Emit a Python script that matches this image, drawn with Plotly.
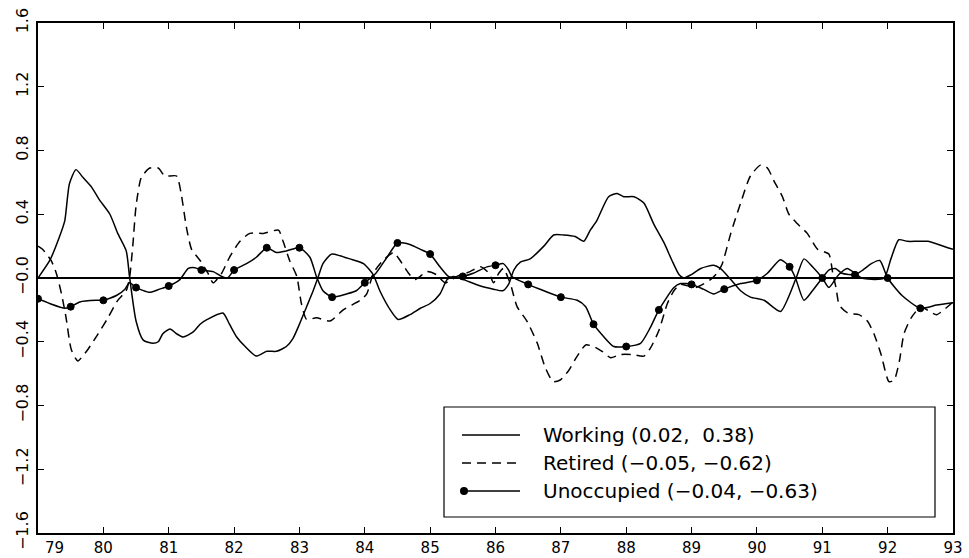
import plotly.graph_objects as go

# ---------------------------------------------------------------------------
# Series (year, value) read as fractional years 79 .. 93
# ---------------------------------------------------------------------------
working_years = [79.0, 79.18, 79.33, 79.41, 79.48, 79.58, 79.69, 79.82, 79.94, 80.1,
                 80.22, 80.35, 80.40, 80.50, 80.61, 80.76, 80.84, 80.91, 81.02, 81.12,
                 81.22, 81.37, 81.48, 81.59, 81.83, 81.93, 82.04, 82.17, 82.34, 82.5,
                 82.65, 82.8, 82.9, 83.0, 83.11, 83.21, 83.29, 83.36, 83.49, 83.62,
                 83.77, 83.98, 84.13, 84.23, 84.39, 84.51, 84.69, 84.85, 85.0, 85.15,
                 85.26, 85.36, 85.51, 85.77, 85.97, 86.11, 86.2, 86.28, 86.38, 86.53,
                 86.74, 86.89, 87.04, 87.22, 87.35, 87.45, 87.55, 87.73, 87.86, 87.96,
                 88.12, 88.27, 88.42, 88.58, 88.7, 88.81, 88.88, 88.99, 89.14, 89.34,
                 89.44, 89.6, 89.75, 89.9, 90.11, 90.36, 90.6, 90.72, 90.85, 91.0,
                 91.1, 91.25, 91.38, 91.5, 91.6, 91.8, 91.95, 92.05, 92.17, 92.3,
                 92.45, 92.62, 92.92, 93.0]
working_values = [0.0, 0.11, 0.26, 0.36, 0.59, 0.68, 0.63, 0.57, 0.49, 0.40,
                  0.28, 0.17, 0.01, -0.27, -0.39, -0.41, -0.40, -0.35, -0.32, -0.35,
                  -0.37, -0.34, -0.29, -0.26, -0.22, -0.29, -0.37, -0.43, -0.49, -0.46,
                  -0.46, -0.43, -0.38, -0.29, -0.18, -0.08, 0.01, 0.09, 0.15, 0.14,
                  0.12, 0.09, 0.02, -0.08, -0.20, -0.26, -0.23, -0.19, -0.16, -0.10,
                  -0.01, 0.01, -0.01, -0.05, -0.07, -0.08, -0.04, 0.05, 0.10, 0.12,
                  0.20, 0.27, 0.27, 0.26, 0.23, 0.30, 0.36, 0.51, 0.53, 0.51,
                  0.51, 0.47, 0.34, 0.22, 0.11, 0.02, 0.0, 0.02, 0.06, 0.08,
                  0.06, -0.01, -0.08, -0.12, -0.14, -0.21, 0.0, 0.12, 0.07, 0.0,
                  -0.06, 0.02, 0.06, 0.03, 0.0, -0.01, 0.0, 0.12, 0.24, 0.23,
                  0.23, 0.23, 0.19, 0.18]

retired_years = [79.0, 79.07, 79.2, 79.28, 79.36, 79.43, 79.51, 79.61, 79.76, 79.92,
                 80.07, 80.22, 80.35, 80.40, 80.45, 80.5, 80.58, 80.71, 80.84, 80.94,
                 81.12, 81.19, 81.27, 81.35, 81.48, 81.6, 81.68, 81.81, 81.93, 82.09,
                 82.24, 82.45, 82.68, 82.75, 82.85, 82.96, 83.03, 83.11, 83.26, 83.47,
                 83.67, 83.93, 84.03, 84.13, 84.28, 84.44, 84.54, 84.67, 84.77, 84.95,
                 85.1, 85.23, 85.41, 85.61, 85.77, 85.9, 85.97, 86.05, 86.12, 86.23,
                 86.33, 86.48, 86.64, 86.76, 86.88, 86.99, 87.12, 87.25, 87.38, 87.5,
                 87.63, 87.76, 87.91, 88.09, 88.27, 88.37, 88.5, 88.63, 88.73, 88.83,
                 89.06, 89.29, 89.39, 89.47, 89.6, 89.75, 89.9, 90.06, 90.16, 90.26,
                 90.39, 90.49, 90.62, 90.77, 90.93, 91.1, 91.16, 91.21, 91.26, 91.39,
                 91.56, 91.69, 91.79, 91.9, 92.02, 92.1, 92.18, 92.25, 92.36, 92.51,
                 92.64, 92.75, 93.0]
retired_values = [0.20, 0.18, 0.11, 0.03, -0.10, -0.25, -0.45, -0.52, -0.45, -0.35,
                  -0.25, -0.14, -0.08, 0.0, 0.20, 0.45, 0.63, 0.69, 0.69, 0.64,
                  0.64, 0.53, 0.32, 0.18, 0.11, 0.03, -0.03, 0.03, 0.13, 0.23,
                  0.28, 0.28, 0.30, 0.23, 0.11, 0.01, -0.16, -0.26, -0.25, -0.27,
                  -0.20, -0.14, -0.10, 0.03, 0.11, 0.16, 0.11, 0.03, -0.01, 0.04,
                  0.02, -0.03, 0.01, 0.04, 0.07, 0.03, -0.03, 0.03, 0.06, -0.04,
                  -0.18, -0.27, -0.41, -0.56, -0.65, -0.64, -0.58, -0.49, -0.42, -0.43,
                  -0.46, -0.50, -0.48, -0.48, -0.49, -0.44, -0.33, -0.16, -0.08, -0.04,
                  -0.06, -0.01, 0.03, 0.09, 0.28, 0.47, 0.64, 0.71, 0.69, 0.61,
                  0.51, 0.40, 0.34, 0.28, 0.18, 0.15, 0.03, -0.06, -0.17, -0.22,
                  -0.23, -0.27, -0.35, -0.48, -0.65, -0.64, -0.52, -0.35, -0.25, -0.18,
                  -0.21, -0.23, -0.15]

unoccupied_years = [79.0, 79.18, 79.41, 79.5, 79.64, 79.89, 80.0, 80.2, 80.33, 80.4,
                    80.5, 80.71, 80.86, 81.0, 81.17, 81.3, 81.4, 81.5, 81.68, 81.81,
                    81.9, 82.0, 82.19, 82.34, 82.5, 82.65, 82.8, 83.0, 83.16, 83.26,
                    83.36, 83.5, 83.72, 83.87, 84.0, 84.17, 84.34, 84.5, 84.69, 84.85,
                    85.0, 85.15, 85.28, 85.38, 85.5, 85.66, 85.87, 86.0, 86.12, 86.2,
                    86.25, 86.5, 86.74, 87.0, 87.25, 87.38, 87.5, 87.66, 87.81, 88.0,
                    88.22, 88.37, 88.5, 88.73, 88.83, 89.0, 89.18, 89.34, 89.5, 89.75,
                    90.0, 90.16, 90.36, 90.5, 90.59, 90.72, 90.85, 91.0, 91.1, 91.2,
                    91.3, 91.5, 91.62, 91.75, 91.88, 92.0, 92.22, 92.5, 92.75, 93.0]
unoccupied_values = [-0.13, -0.16, -0.19, -0.18, -0.15, -0.14, -0.14, -0.11, -0.07, -0.03,
                     -0.06, -0.09, -0.07, -0.05, -0.01, 0.06, 0.065, 0.05, 0.04, 0.01,
                     0.0, 0.05, 0.09, 0.13, 0.19, 0.16, 0.17, 0.19, 0.13, 0.01,
                     -0.08, -0.12, -0.10, -0.08, -0.03, 0.03, 0.13, 0.22, 0.21, 0.18,
                     0.15, 0.07, 0.01, 0.0, 0.01, 0.03, 0.07, 0.08, 0.09, 0.05,
                     0.01, -0.04, -0.08, -0.12, -0.14, -0.18, -0.29, -0.37, -0.43, -0.43,
                     -0.41, -0.31, -0.20, -0.06, -0.035, -0.04, -0.07, -0.10, -0.07, -0.035,
                     -0.015, 0.03, 0.115, 0.07, 0.0, -0.14, -0.08, 0.0, 0.05, 0.06,
                     0.03, 0.02, 0.05, 0.09, 0.11, 0.0, -0.11, -0.19, -0.17, -0.155]

assert len(working_years) == len(working_values)
assert len(retired_years) == len(retired_values)
assert len(unoccupied_years) == len(unoccupied_values)

# Axis ticks
x_tick_values = list(range(79, 94))
x_tick_labels = [str(v) for v in x_tick_values]
y_tick_values = [-1.6, -1.2, -0.8, -0.4, 0.0, 0.4, 0.8, 1.2, 1.6]
y_tick_labels = ["\u22121.6", "\u22121.2", "\u22120.8", "\u22120.4", "\u22120.0",
                 "0.4", "0.8", "1.2", "1.6"]

# Legend entries: series name and the pair of statistics shown beside it
series_names = ["Working", "Retired", "Unoccupied"]
legend_labels = ["Working (0.02,\u00a0 0.38)",
                 "Retired (\u22120.05, \u22120.62)",
                 "Unoccupied (\u22120.04, \u22120.63)"]

# ---------------------------------------------------------------------------
# Layout geometry (pixels)
# ---------------------------------------------------------------------------
W, H = 969, 558
M_L, M_R, M_T, M_B = 38, 16, 23, 25
FONT = "DejaVu Sans"
INK = "#000000"


def fx(px):
    return (px - M_L) / (W - M_L - M_R)


def fy(py):
    return 1 - (py - M_T) / (H - M_T - M_B)


# Unoccupied carries a dot every half year (not on the closing point)
dot_sizes = [7 if abs(y * 2 - round(y * 2)) < 1e-6 and y < 93 else 0
             for y in unoccupied_years]

line_style = dict(color=INK, width=1.5, shape="spline", smoothing=0.6)

fig = go.Figure()
fig.add_trace(go.Scatter(x=working_years, y=working_values, mode="lines",
                         name=series_names[0], line=line_style, showlegend=False))
fig.add_trace(go.Scatter(x=retired_years, y=retired_values, mode="lines",
                         name=series_names[1],
                         line=dict(line_style, dash="9px,6px"), showlegend=False))
fig.add_trace(go.Scatter(x=unoccupied_years, y=unoccupied_values, mode="lines+markers",
                         name=series_names[2], line=line_style,
                         marker=dict(size=dot_sizes, color=INK, opacity=1,
                                     line=dict(width=1, color=INK)),
                         showlegend=False))

# Legend box drawn in pixel positions
box_l, box_r, box_t, box_b = 444, 935, 407, 517
row_y = [435, 463, 491]
sample_l, sample_r = 462, 520
text_x = 541

shapes = [dict(type="rect", xref="paper", yref="paper",
               x0=fx(box_l), x1=fx(box_r), y0=fy(box_b), y1=fy(box_t),
               line=dict(color=INK, width=1.2), fillcolor="white", layer="above")]
dashes = ["solid", "9px,6px", "solid"]
for ry, dash in zip(row_y, dashes):
    shapes.append(dict(type="line", xref="paper", yref="paper",
                       x0=fx(sample_l), x1=fx(sample_r), y0=fy(ry), y1=fy(ry),
                       line=dict(color=INK, width=1.4, dash=dash), layer="above"))
shapes.append(dict(type="circle", xref="paper", yref="paper",
                   xsizemode="pixel", ysizemode="pixel",
                   xanchor=fx(sample_l + 2), yanchor=fy(row_y[2]),
                   x0=-4, x1=4, y0=-4, y1=4,
                   fillcolor=INK, line=dict(color=INK, width=0), layer="above"))

annotations = []
for ry, label in zip(row_y, legend_labels):
    annotations.append(dict(xref="paper", yref="paper", x=fx(text_x), y=fy(ry),
                            text=label, showarrow=False, xanchor="left",
                            yanchor="middle", font=dict(family=FONT, size=20, color=INK)))
# First year label sits just inside the left frame edge
annotations.append(dict(xref="x", yref="paper", x=x_tick_values[0], y=0,
                        text=x_tick_labels[0], showarrow=False, xanchor="center",
                        yanchor="top", xshift=16, yshift=-4,
                        font=dict(family=FONT, size=15, color=INK)))

axis_common = dict(showline=True, linecolor=INK, linewidth=2, mirror="ticks",
                   ticks="inside", ticklen=6, tickwidth=1, tickcolor=INK,
                   showgrid=False, tickfont=dict(family=FONT, size=15, color=INK),
                   automargin=False)

fig.update_layout(
    width=W, height=H,
    margin=dict(l=M_L, r=M_R, t=M_T, b=M_B, pad=0),
    paper_bgcolor="white", plot_bgcolor="white",
    showlegend=False,
    xaxis=dict(axis_common, range=[79, 93], tickvals=x_tick_values,
               ticktext=[""] + x_tick_labels[1:], zeroline=False,
               ticklabelstandoff=0),
    yaxis=dict(axis_common, range=[-1.6, 1.6], tickvals=y_tick_values,
               ticktext=y_tick_labels, tickangle=-90,
               tickfont=dict(family=FONT, size=16, color=INK),
               zeroline=True, zerolinecolor=INK, zerolinewidth=1.5,
               ticklabelstandoff=2),
    shapes=shapes,
    annotations=annotations,
)

fig.write_html("out.html")
